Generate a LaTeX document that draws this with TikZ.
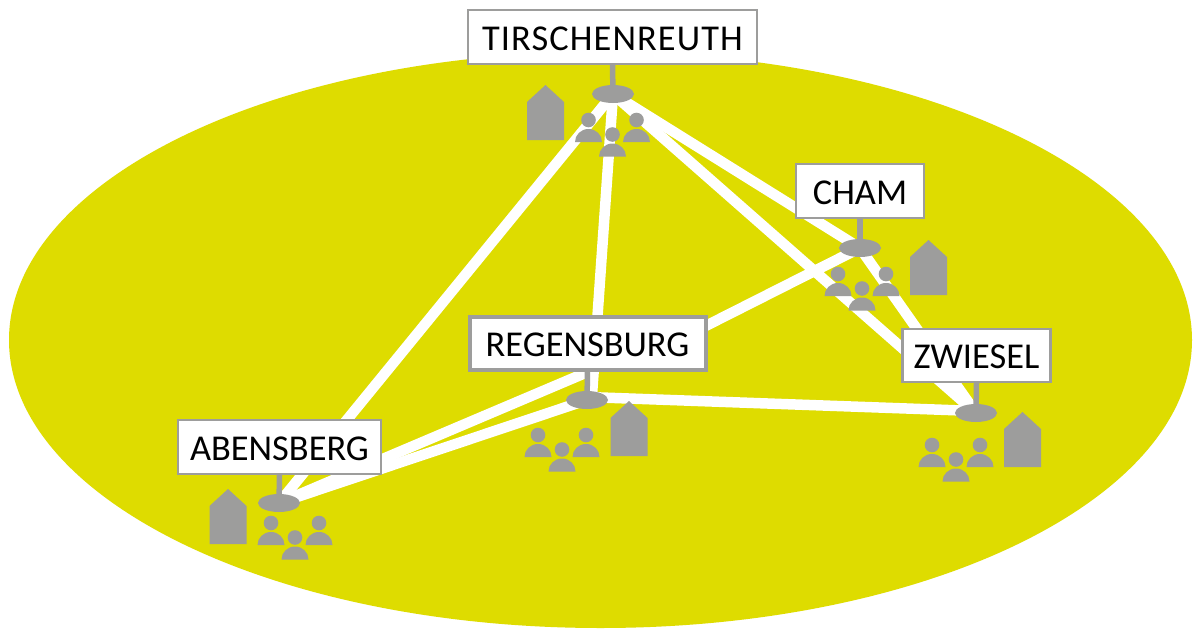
\documentclass[tikz,border=0pt]{standalone}
\usepackage{fontspec}
\setmainfont{Carlito}
\usetikzlibrary{shapes.geometric,backgrounds}
\definecolor{landcol}{HTML}{DEDC00}
\definecolor{greycol}{HTML}{9D9D9C}
\newcommand{\citytext}[1]{\rule{0pt}{26.5pt}#1}
\tikzset{
  x=1pt,y=-1pt,
  citybox/.style={draw=greycol,line width=2.4pt,fill=white,text=black,inner sep=0pt,font=\fontsize{36.4}{36}\selectfont},
  hub/.style={ellipse,fill=greycol,inner sep=0pt,minimum width=42pt,minimum height=18pt},
  link/.style={draw=white,line width=10.5pt},
  pole/.style={draw=greycol,line width=5.5pt},
  house/.pic={\fill[greycol] (0,0) -- (-18.5,17) -- (-18.5,55) -- (18.5,55) -- (18.5,17) -- cycle;},
  person/.pic={\fill[greycol] (0,-22) circle[radius=7.3];
    \fill[greycol] (-13.5,0) .. controls (-13.5,-7.2) and (-7.5,-13) .. (0,-13) .. controls (7.5,-13) and (13.5,-7.2) .. (13.5,0) -- cycle;},
  people/.pic={\pic at (0,0) {person};\pic at (24,14.5) {person};\pic at (48,0) {person};}
}
\begin{document}
\begin{tikzpicture}
\useasboundingbox (0,0) rectangle (1200,637);
\node[hub] (hubT) at (613,94) {};
\node[hub] (hubC) at (860,248) {};
\node[hub] (hubZ) at (976,413) {};
\node[hub] (hubR) at (587,400) {};
\node[hub] (hubA) at (279,503) {};
\coordinate (regUp) at (590,371);
\coordinate (regE) at (587,397);
\coordinate (regN) at (592,395);
\coordinate (regNE) at (670,344);
\coordinate (zwiW) at (976,411);
\begin{scope}[on background layer]
  \fill[white] (0,0) rectangle (1200,637);
  \node[ellipse,fill=landcol,inner sep=0pt,minimum width=1183pt,minimum height=576pt] (land) at (600.5,340) {};
  \draw[link] (hubT.center) -- (hubA.center);
  \draw[link] (hubT.center) -- (regN);
  \draw[link] (hubT.center) -- (hubC.center);
  \draw[link] (hubT.center) -- (hubZ.center);
  \draw[link] (hubC.center) -- (hubZ.center);
  \draw[link] (hubC.center) -- (regNE);
  \draw[link] (hubA.center) -- (hubR.center);
  \draw[link] (hubA.center) -- (regUp);
  \draw[link] (regE) -- (zwiW);
\end{scope}
\pic at (545.5,85) {house};
\pic at (928.5,240) {house};
\pic at (1022.5,412) {house};
\pic at (629,401) {house};
\pic at (228,489) {house};
\pic at (588.5,142) {people};
\pic at (838,296) {people};
\pic at (932,467) {people};
\pic at (538,457) {people};
\pic at (271,545) {people};
\node[citybox,minimum width=289pt,minimum height=54pt] (boxT) at (612.5,37) {\addfontfeature{LetterSpace=3}\citytext{TIRSCHENREUTH}};
\node[citybox,minimum width=128pt,minimum height=54pt] (boxC) at (860,191) {\citytext{CHAM}};
\node[citybox,minimum width=148pt,minimum height=53pt] (boxZ) at (976.5,355.5) {\citytext{ZWIESEL}};
\node[citybox,line width=4pt,minimum width=236pt,minimum height=53pt] (boxR) at (587.5,343) {\citytext{REGENSBURG}};
\node[citybox,minimum width=203pt,minimum height=54pt] (boxA) at (279.5,447) {\citytext{ABENSBERG}};
\draw[pole] (boxT.south) -- (hubT.center);
\draw[pole] (boxC.south) -- (hubC.center);
\draw[pole] (boxZ.south) -- (hubZ.center);
\draw[pole] (boxR.south) -- (hubR.center);
\draw[pole] (boxA.south) -- (hubA.center);
\end{tikzpicture}
\end{document}
